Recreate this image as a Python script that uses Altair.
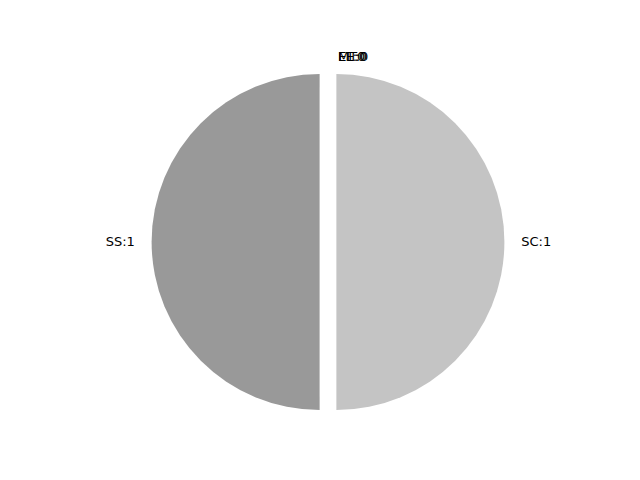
import altair as alt
import pandas as pd

categories = ["SS", "SC", "MT", "ET", "EE"]
values = [1, 1, 0, 0, 0]
colors = ["#999999", "#c4c4c4"]

df = pd.DataFrame({"cat": categories, "value": values})
df["label"] = df["cat"] + ":" + df["value"].astype(str)

total = sum(values)
theta_scale = alt.Scale(domain=[0, total], range=[0, 6.283185307])
R = 168
CX, CY = 320, 234
off = 8.4
font = "DejaVu Sans"
lab_r = R * 1.1

base = alt.Chart(df)

right = base.transform_filter(alt.datum.cat == "SC").transform_calculate(
    a0="0", a1="datum.value"
).mark_arc(xOffset=off).encode(
    theta=alt.Theta("a0:Q", scale=theta_scale),
    theta2="a1:Q",
    x=alt.value(CX), y=alt.value(CY),
    radius=alt.value(R),
    color=alt.value(colors[1]),
)
left = base.transform_filter(alt.datum.cat == "SS").transform_calculate(
    a0="1", a1="1 + datum.value"
).mark_arc(xOffset=-off).encode(
    theta=alt.Theta("a0:Q", scale=theta_scale),
    theta2="a1:Q",
    x=alt.value(CX), y=alt.value(CY),
    radius=alt.value(R),
    color=alt.value(colors[0]),
)

txt_right = base.transform_filter(alt.datum.cat == "SC").mark_text(
    align="left", baseline="middle", fontSize=13, font=font, xOffset=off, color="black"
).encode(
    theta=alt.value(1.5707963), radius=alt.value(lab_r),
    x=alt.value(CX), y=alt.value(CY), text="label:N",
)
txt_left = base.transform_filter(alt.datum.cat == "SS").mark_text(
    align="right", baseline="middle", fontSize=13, font=font, xOffset=-off, color="black"
).encode(
    theta=alt.value(4.712389), radius=alt.value(lab_r),
    x=alt.value(CX), y=alt.value(CY), text="label:N",
)
txt_top = base.transform_filter(alt.datum.value == 0).mark_text(
    align="left", baseline="middle", fontSize=13, font=font, color="black", xOffset=10
).encode(
    theta=alt.value(0), radius=alt.value(lab_r),
    x=alt.value(CX), y=alt.value(CY), text="label:N",
)

chart = alt.layer(left, right, txt_left, txt_right, txt_top).properties(
    width=624, height=464, autosize=alt.AutoSizeParams(type="none"), padding=0
).configure_view(stroke=None)

chart.save("out.html", embed_options={"renderer": "svg", "actions": False})
